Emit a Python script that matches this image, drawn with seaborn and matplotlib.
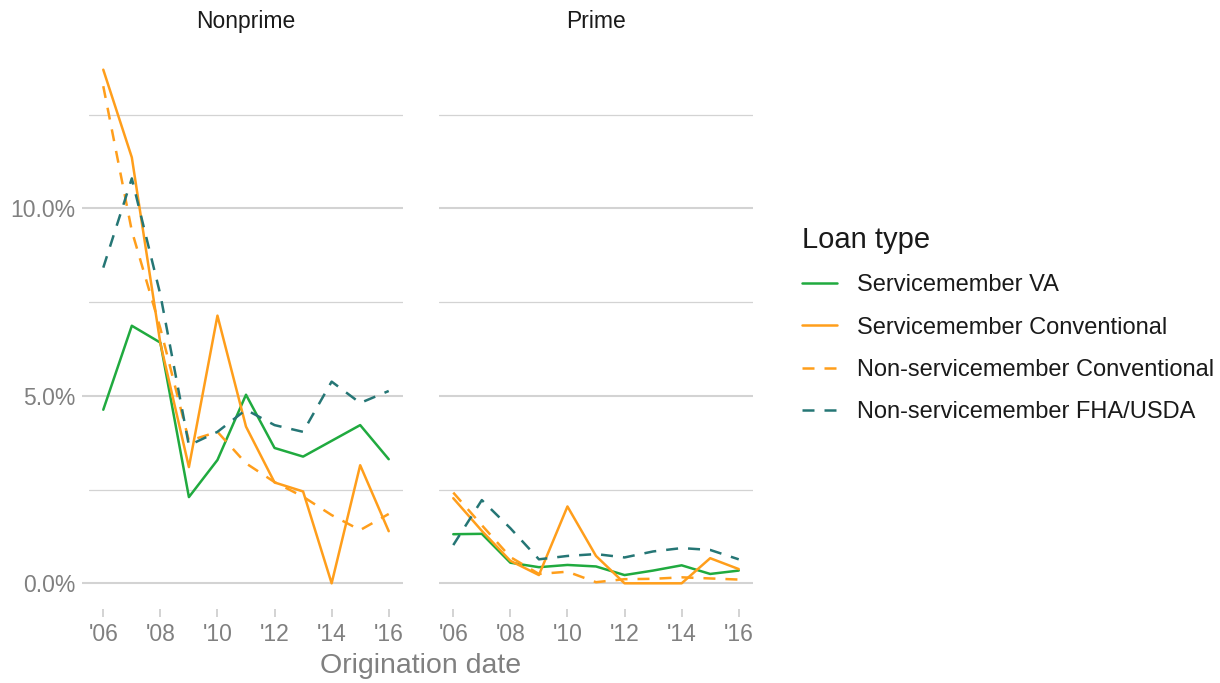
import pandas as pd
import numpy as np
import matplotlib.pyplot as plt
import seaborn as sns
from matplotlib.lines import Line2D
from matplotlib.ticker import FixedLocator, FuncFormatter

sns.set_theme(style="white")
plt.rcParams['font.family'] = ['Liberation Sans', 'DejaVu Sans']

# ============================================================
# Data (percent delinquent)
# ============================================================
years = list(range(2006, 2017))
xtick_years = [2006, 2008, 2010, 2012, 2014, 2016]
xtick_labels = ["'06", "'08", "'10", "'12", "'14", "'16"]
ytick_values = [0, 5, 10]
ytick_minor = [2.5, 7.5, 12.5]

panels = ["Nonprime", "Prime"]
loan_types = ["Servicemember VA", "Servicemember Conventional",
              "Non-servicemember Conventional", "Non-servicemember FHA/USDA"]

# Nonprime
va_nonprime = [4.63, 6.87, 6.42, 2.30, 3.29, 5.03, 3.61, 3.38, 3.80, 4.22, 3.31]
sc_nonprime = [13.70, 11.36, 6.40, 3.10, 7.14, 4.18, 2.69, 2.45, 0.0, 3.15, 1.39]
nc_nonprime = [13.26, 9.40, 6.80, 3.80, 4.04, 3.20, 2.70, 2.31, 1.82, 1.42, 1.85]
fha_nonprime = [8.42, 10.80, 7.70, 3.68, 4.04, 4.63, 4.22, 4.04, 5.38, 4.81, 5.13]

# Prime
va_prime = [1.31, 1.32, 0.55, 0.43, 0.49, 0.45, 0.22, 0.34, 0.48, 0.25, 0.34]
sc_prime = [2.27, 1.40, 0.60, 0.22, 2.05, 0.73, 0.0, 0.0, 0.0, 0.67, 0.38]
nc_prime = [2.42, 1.55, 0.70, 0.25, 0.31, 0.03, 0.11, 0.12, 0.16, 0.13, 0.10]
fha_prime = [1.02, 2.22, 1.47, 0.64, 0.73, 0.78, 0.69, 0.85, 0.94, 0.89, 0.64]

colors = {"Servicemember VA": "#20aa3f",
          "Servicemember Conventional": "#ff9e1b",
          "Non-servicemember Conventional": "#ff9e1b",
          "Non-servicemember FHA/USDA": "#257675"}
dashes = {"Servicemember VA": "",
          "Servicemember Conventional": "",
          "Non-servicemember Conventional": (4.8, 4),
          "Non-servicemember FHA/USDA": (4.8, 4)}

series = {
    "Nonprime": [va_nonprime, sc_nonprime, nc_nonprime, fha_nonprime],
    "Prime": [va_prime, sc_prime, nc_prime, fha_prime],
}

rows = []
for panel in panels:
    for lt, vals in zip(loan_types, series[panel]):
        for yr, v in zip(years, vals):
            rows.append({"panel": panel, "loan": lt, "year": yr, "rate": v})
df = pd.DataFrame(rows)

# ============================================================
# Plot
# ============================================================
W, H = 1220, 683
fig = plt.figure(figsize=(W / 100, H / 100), dpi=100)
ax1 = fig.add_axes([89 / W, 74 / H, 314 / W, 565 / H])
ax2 = fig.add_axes([439 / W, 74 / H, 314 / W, 565 / H], sharey=ax1)

grid_col = "#d3d3d3"
tick_col = "#808080"

ymax = df["rate"].max()
for ax, panel in zip([ax1, ax2], panels):
    sub = df[df["panel"] == panel]
    sns.lineplot(data=sub, x="year", y="rate", hue="loan", style="loan",
                 hue_order=loan_types, style_order=loan_types,
                 palette=colors, dashes=dashes, linewidth=1.8,
                 errorbar=None, legend=False, ax=ax)
    ax.set_xlim(2005.5, 2016.5)
    ax.set_ylim(-0.05 * ymax, 1.05 * ymax)
    ax.set_xticks(xtick_years)
    ax.set_xticklabels(xtick_labels)
    ax.set_yticks(ytick_values)
    ax.yaxis.set_minor_locator(FixedLocator(ytick_minor))
    ax.yaxis.set_major_formatter(FuncFormatter(lambda v, p: f"{v:.1f}%"))
    ax.grid(False)
    ax.grid(which="major", axis="y", color=grid_col, linewidth=1.5)
    ax.grid(which="minor", axis="y", color=grid_col, linewidth=0.9)
    ax.set_axisbelow(True)
    ax.tick_params(axis="x", length=5.8, width=1.4, color=grid_col,
                   labelcolor=tick_col, labelsize=16.5, pad=4, bottom=True)
    ax.tick_params(axis="y", which="minor", length=0)
    ax.set_xlabel("")
    ax.set_ylabel("")
    sns.despine(ax=ax, left=True, bottom=True)
    ax.text(0.5, 1 + 22 / 565, panel, transform=ax.transAxes,
            ha="center", va="center", fontsize=16.5, color="#1a1a1a")

ax1.tick_params(axis="y", length=5, width=1.5, color=grid_col,
                labelcolor=tick_col, labelsize=16.5, pad=5, left=True)
ax2.tick_params(axis="y", which="both", left=False, labelleft=False)

fig.text(421 / W, 1 - 666 / H, "Origination date", ha="center", va="center",
         fontsize=20.5, color=tick_col)

handles = [Line2D([0], [0], color=colors[lt], linewidth=1.8,
                  linestyle=(0, dashes[lt]) if dashes[lt] else "-")
           for lt in loan_types]
leg = fig.legend(handles, loan_types, title="Loan type", loc="upper left",
                 bbox_to_anchor=(796 / W, 1 - 220 / H), frameon=False,
                 fontsize=17, title_fontsize=21, handlelength=1.5,
                 handletextpad=0.85, labelspacing=0.86, borderpad=0.25,
                 borderaxespad=0, alignment="left")
for t in leg.get_texts():
    t.set_color("#1a1a1a")
leg.get_title().set_color("#1a1a1a")

fig.savefig("out.png", dpi=100)
